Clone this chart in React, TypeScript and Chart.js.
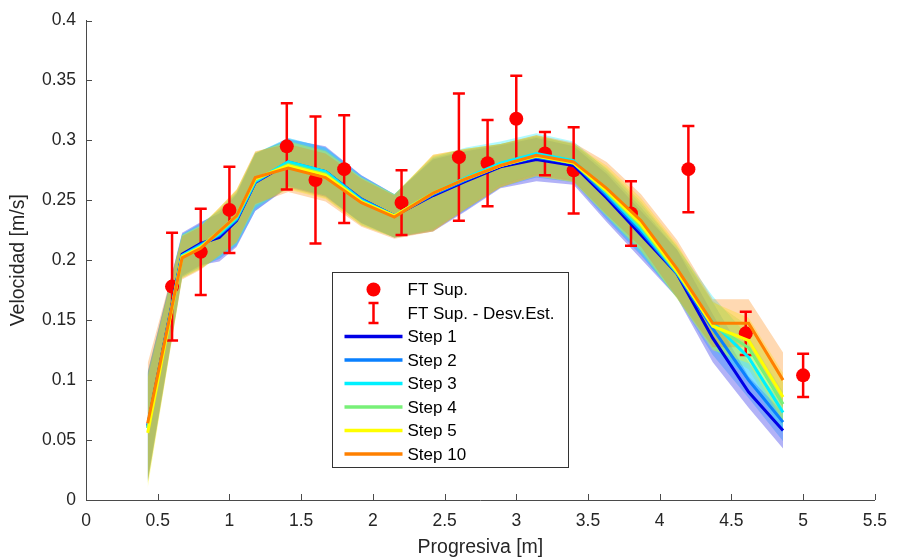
import React, { useEffect, useRef } from "react";
import { Chart, registerables } from "chart.js";

Chart.register(...registerables);

// Abscissa (progresiva, m) of the simulated profiles
const progresiva = [0.43, 0.67, 0.8, 0.93, 1.05, 1.18, 1.41, 1.67, 1.92, 2.15, 2.42, 2.65, 2.89, 3.14, 3.4, 3.63, 3.87, 4.12, 4.37, 4.62, 4.86];

// Mean velocity (m/s) per step
const step1 = [0.062, 0.205, 0.214, 0.219, 0.233, 0.265, 0.281, 0.274, 0.251, 0.237, 0.254, 0.266, 0.278, 0.284, 0.279, 0.252, 0.221, 0.189, 0.135, 0.09, 0.058];
const step2 = [0.061, 0.204, 0.213, 0.221, 0.234, 0.265, 0.282, 0.274, 0.251, 0.237, 0.255, 0.267, 0.279, 0.286, 0.281, 0.254, 0.224, 0.189, 0.143, 0.1, 0.065];
const step3 = [0.06, 0.204, 0.212, 0.222, 0.235, 0.266, 0.282, 0.274, 0.25, 0.237, 0.256, 0.269, 0.281, 0.289, 0.283, 0.256, 0.226, 0.19, 0.148, 0.119, 0.073];
const step4 = [0.06, 0.203, 0.211, 0.223, 0.236, 0.267, 0.28, 0.272, 0.249, 0.237, 0.256, 0.268, 0.279, 0.287, 0.281, 0.257, 0.228, 0.19, 0.146, 0.127, 0.08];
const step5 = [0.056, 0.203, 0.211, 0.224, 0.237, 0.268, 0.279, 0.271, 0.249, 0.237, 0.256, 0.268, 0.279, 0.287, 0.281, 0.258, 0.23, 0.191, 0.145, 0.133, 0.086];
const step10 = [0.064, 0.202, 0.21, 0.224, 0.237, 0.269, 0.277, 0.269, 0.248, 0.236, 0.256, 0.268, 0.279, 0.2875, 0.282, 0.26, 0.233, 0.193, 0.1475, 0.1475, 0.1];

// Standard deviation (m/s) per step
const sd1 = [0.045, 0.018, 0.018, 0.02, 0.022, 0.024, 0.02, 0.021, 0.02, 0.018, 0.03, 0.025, 0.018, 0.018, 0.016, 0.02, 0.02, 0.02, 0.02, 0.013, 0.015];
const sd2 = [0.045, 0.018, 0.018, 0.02, 0.022, 0.024, 0.02, 0.02, 0.02, 0.018, 0.03, 0.025, 0.018, 0.017, 0.016, 0.02, 0.02, 0.02, 0.022, 0.015, 0.016];
const sd3 = [0.045, 0.018, 0.018, 0.02, 0.022, 0.023, 0.02, 0.02, 0.02, 0.018, 0.03, 0.025, 0.018, 0.017, 0.016, 0.02, 0.021, 0.021, 0.022, 0.017, 0.017];
const sd4 = [0.046, 0.018, 0.018, 0.02, 0.022, 0.023, 0.02, 0.02, 0.02, 0.018, 0.031, 0.025, 0.018, 0.017, 0.016, 0.02, 0.021, 0.022, 0.02, 0.018, 0.018];
const sd5 = [0.046, 0.018, 0.018, 0.02, 0.022, 0.022, 0.02, 0.02, 0.02, 0.018, 0.032, 0.025, 0.018, 0.017, 0.016, 0.021, 0.022, 0.023, 0.02, 0.019, 0.02];
const sd10 = [0.05, 0.018, 0.018, 0.02, 0.022, 0.022, 0.02, 0.02, 0.02, 0.018, 0.032, 0.025, 0.018, 0.017, 0.016, 0.022, 0.022, 0.024, 0.02, 0.02, 0.023];

// Measured velocity (FT Sup.) with its standard deviation
const ftX = [0.6, 0.8, 1.0, 1.4, 1.6, 1.8, 2.2, 2.6, 2.8, 3.0, 3.2, 3.4, 3.8, 4.2, 4.6, 5.0];
const ftMean = [0.178, 0.207, 0.242, 0.295, 0.267, 0.276, 0.248, 0.286, 0.281, 0.318, 0.289, 0.275, 0.239, 0.276, 0.139, 0.104];
const ftSd = [0.045, 0.036, 0.036, 0.036, 0.053, 0.045, 0.027, 0.053, 0.036, 0.036, 0.018, 0.036, 0.027, 0.036, 0.018, 0.018];

// Axis ticks
const xTicks = [0, 0.5, 1, 1.5, 2, 2.5, 3, 3.5, 4, 4.5, 5, 5.5];
const xTickLabels = ["0", "0.5", "1", "1.5", "2", "2.5", "3", "3.5", "4", "4.5", "5", "5.5"];
const yTicks = [0, 0.05, 0.1, 0.15, 0.2, 0.25, 0.3, 0.35, 0.4];
const yTickLabels = ["0", "0.05", "0.1", "0.15", "0.2", "0.25", "0.3", "0.35", "0.4"];

const stepNames = ["Step 1", "Step 2", "Step 3", "Step 4", "Step 5", "Step 10"];
const stepMeans = [step1, step2, step3, step4, step5, step10];
const stepSds = [sd1, sd2, sd3, sd4, sd5, sd10];
const ftName = "FT Sup.";
const ftSdName = "FT Sup. - Desv.Est.";
const xTitle = "Progresiva [m]";
const yTitle = "Velocidad [m/s]";

const stepRgb = [
  [0, 0, 230],
  [10, 128, 255],
  [0, 240, 255],
  [120, 240, 120],
  [255, 255, 0],
  [255, 128, 0],
];
const RED = "#ff0000";
const FONT = "'Liberation Sans', Arial, sans-serif";
const TEXT = "#262626";
const AXIS = "#4a4a4a";

export default function App() {
  const canvasRef = useRef<HTMLCanvasElement | null>(null);

  useEffect(() => {
    const canvas = canvasRef.current;
    if (!canvas) return;

    const datasets: any[] = [];

    // shaded ±sd bands: a transparent lower edge, then an upper edge filled down to it
    stepMeans.forEach((mean, i) => {
      const sd = stepSds[i];
      const [r, g, b] = stepRgb[i];
      datasets.push({
        label: stepNames[i] + " lower",
        data: progresiva.map((x, j) => ({ x, y: mean[j] - sd[j] })),
        borderColor: "rgba(0,0,0,0)",
        borderWidth: 1,
        pointRadius: 0,
        fill: false,
        order: 300,
      });
      datasets.push({
        label: stepNames[i] + " upper",
        data: progresiva.map((x, j) => ({ x, y: mean[j] + sd[j] })),
        borderColor: "rgba(0,0,0,0)",
        borderWidth: 1,
        pointRadius: 0,
        fill: "-1",
        backgroundColor: `rgba(${r},${g},${b},0.3)`,
        order: 200 - i,
      });
    });

    // measured points (error bars drawn by plugin just before them)
    const ftIndex = datasets.length;
    datasets.push({
      label: ftName,
      data: ftX.map((x, j) => ({ x, y: ftMean[j] })),
      showLine: false,
      pointRadius: 7,
      pointBackgroundColor: RED,
      pointBorderColor: RED,
      pointBorderWidth: 0,
      fill: false,
      order: 100,
    });

    // mean lines, Step 10 on top
    stepMeans.forEach((mean, i) => {
      const [r, g, b] = stepRgb[i];
      datasets.push({
        label: stepNames[i],
        data: progresiva.map((x, j) => ({ x, y: mean[j] })),
        borderColor: `rgb(${r},${g},${b})`,
        borderWidth: 3,
        pointRadius: 0,
        fill: false,
        order: 50 - i,
      });
    });

    const errorBars = {
      id: "errorBars",
      beforeDatasetDraw(chart: any, args: any) {
        if (args.index !== ftIndex) return;
        const { ctx, scales } = chart;
        ctx.save();
        ctx.strokeStyle = RED;
        ctx.lineWidth = 2.5;
        const cap = 6;
        ftX.forEach((xv, j) => {
          const x = scales.x.getPixelForValue(xv);
          const yt = scales.y.getPixelForValue(ftMean[j] + ftSd[j]);
          const yb = scales.y.getPixelForValue(ftMean[j] - ftSd[j]);
          ctx.beginPath();
          ctx.moveTo(x, yt);
          ctx.lineTo(x, yb);
          ctx.moveTo(x - cap, yt);
          ctx.lineTo(x + cap, yt);
          ctx.moveTo(x - cap, yb);
          ctx.lineTo(x + cap, yb);
          ctx.stroke();
        });
        ctx.restore();
      },
    };

    const axisDecor = {
      id: "axisDecor",
      beforeDatasetsDraw(chart: any) {
        const { ctx, scales, chartArea } = chart;
        ctx.save();
        ctx.strokeStyle = AXIS;
        ctx.lineWidth = 1;
        ctx.beginPath();
        xTicks.forEach((v) => {
          const x = Math.round(scales.x.getPixelForValue(v)) + 0.5;
          ctx.moveTo(x, chartArea.bottom);
          ctx.lineTo(x, chartArea.bottom - 6);
        });
        yTicks.forEach((v) => {
          const y = Math.round(scales.y.getPixelForValue(v)) + 0.5;
          ctx.moveTo(chartArea.left, y);
          ctx.lineTo(chartArea.left + 6, y);
        });
        ctx.stroke();
        ctx.restore();
      },
      afterDraw(chart: any) {
        const { ctx, chartArea } = chart;
        ctx.save();
        ctx.fillStyle = TEXT;
        ctx.font = `19.5px ${FONT}`;
        ctx.textAlign = "center";
        ctx.textBaseline = "middle";
        ctx.fillText(xTitle, (chartArea.left + chartArea.right) / 2, chartArea.bottom + 48);
        ctx.translate(19, (chartArea.top + chartArea.bottom) / 2);
        ctx.rotate(-Math.PI / 2);
        ctx.fillText(yTitle, 0, 0);
        ctx.restore();
      },
    };

    const legendBox = {
      id: "legendBox",
      afterDraw(chart: any) {
        const { ctx } = chart;
        const left = 332.5;
        const top = 272.5;
        const w = 236;
        const h = 195;
        const rowH = 23.5;
        const firstRow = top + 17;
        const sampleL = left + 12;
        const sampleR = left + 70;
        const textX = left + 75;
        ctx.save();
        ctx.fillStyle = "#ffffff";
        ctx.fillRect(left, top, w, h);
        ctx.strokeStyle = "#333333";
        ctx.lineWidth = 1;
        ctx.strokeRect(left, top, w, h);
        ctx.font = `17px ${FONT}`;
        ctx.textBaseline = "middle";
        ctx.textAlign = "left";
        const mid = (sampleL + sampleR) / 2;
        // FT Sup.
        let y = firstRow;
        ctx.fillStyle = RED;
        ctx.beginPath();
        ctx.arc(mid, y, 7, 0, Math.PI * 2);
        ctx.fill();
        ctx.fillStyle = "#000000";
        ctx.fillText(ftName, textX, y + 1);
        // FT Sup. - Desv.Est.
        y = firstRow + rowH;
        ctx.strokeStyle = RED;
        ctx.lineWidth = 2.5;
        ctx.beginPath();
        ctx.moveTo(mid, y - 10);
        ctx.lineTo(mid, y + 10);
        ctx.moveTo(mid - 5, y - 10);
        ctx.lineTo(mid + 5, y - 10);
        ctx.moveTo(mid - 5, y + 10);
        ctx.lineTo(mid + 5, y + 10);
        ctx.stroke();
        ctx.fillText(ftSdName, textX, y + 1);
        // Steps
        stepNames.forEach((name, i) => {
          const yy = firstRow + rowH * (i + 2);
          const [r, g, b] = stepRgb[i];
          ctx.strokeStyle = `rgb(${r},${g},${b})`;
          ctx.lineWidth = 3.5;
          ctx.beginPath();
          ctx.moveTo(sampleL, yy);
          ctx.lineTo(sampleR, yy);
          ctx.stroke();
          ctx.fillStyle = "#000000";
          ctx.fillText(name, textX, yy + 1);
        });
        ctx.restore();
      },
    };

    const chart = new Chart(canvas, {
      type: "line",
      data: { datasets },
      options: {
        responsive: false,
        animation: false,
        events: [],
        devicePixelRatio: 1,
        layout: { padding: { left: 0, top: 20, right: 18, bottom: 0 } },
        plugins: {
          legend: { display: false },
          tooltip: { enabled: false },
          filler: { propagate: false },
        },
        scales: {
          x: {
            type: "linear",
            min: 0,
            max: 5.5,
            grid: { display: false, drawTicks: false },
            border: { display: true, color: AXIS, width: 1 },
            afterBuildTicks: (scale: any) => {
              scale.ticks = xTicks.map((value) => ({ value }));
            },
            afterFit: (scale: any) => {
              scale.height = 59;
            },
            ticks: {
              autoSkip: false,
              maxRotation: 0,
              padding: 11,
              color: TEXT,
              font: { family: FONT, size: 17.5 },
              callback: (_v: any, i: number) => xTickLabels[i],
            },
          },
          y: {
            type: "linear",
            min: 0,
            max: 0.4,
            grid: { display: false, drawTicks: false },
            border: { display: true, color: AXIS, width: 1 },
            afterBuildTicks: (scale: any) => {
              scale.ticks = yTicks.map((value) => ({ value }));
            },
            afterFit: (scale: any) => {
              scale.width = 86;
            },
            ticks: {
              autoSkip: false,
              padding: 10,
              color: TEXT,
              font: { family: FONT, size: 17.5 },
              callback: (_v: any, i: number) => yTickLabels[i],
            },
          },
        },
      },
      plugins: [errorBars, axisDecor, legendBox],
    });

    return () => chart.destroy();
  }, []);

  return (
    <div style={{ position: "absolute", left: 0, top: 0, width: 898, height: 559, background: "#ffffff" }}>
      <canvas ref={canvasRef} width={898} height={559} />
    </div>
  );
}
